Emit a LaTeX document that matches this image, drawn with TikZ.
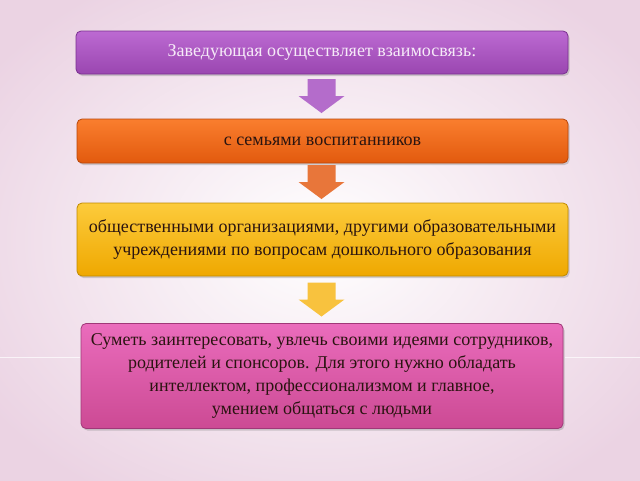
\documentclass[tikz,border=0pt]{standalone}
\usepackage{fontspec}
\setmainfont{Liberation Serif}
\newfontfamily\tnr{Liberation Serif}
\usetikzlibrary{shadows}
\definecolor{bgpink}{HTML}{EBD3E3}
\definecolor{purT}{HTML}{BC6AD2}
\definecolor{purB}{HTML}{9A46B0}
\definecolor{purD}{HTML}{7A3090}
\definecolor{orT}{HTML}{FA7E2E}
\definecolor{orB}{HTML}{E25A0E}
\definecolor{orD}{HTML}{B8460A}
\definecolor{yeT}{HTML}{FCCB3C}
\definecolor{yeB}{HTML}{EFA800}
\definecolor{yeD}{HTML}{C08A00}
\definecolor{maT}{HTML}{EA6CBC}
\definecolor{maB}{HTML}{CC4A94}
\definecolor{maD}{HTML}{A03878}
\definecolor{txtD}{HTML}{2A1410}
\definecolor{txtL}{HTML}{F6EAF8}
\definecolor{arP}{HTML}{B46CCB}
\definecolor{arO}{HTML}{E8763A}
\definecolor{arY}{HTML}{F8C23E}
\tikzset{
  box/.style={rectangle, rounded corners=5pt, line width=0.8pt, align=center,
    font=\tnr\fontsize{18}{23}\selectfont, inner sep=0pt,
    drop shadow={shadow xshift=1.5pt, shadow yshift=-2pt, opacity=0.35}},
  downarrow/.pic={\fill (-14,-17) -- (14,-17) -- (14,0) -- (23,0) -- (0,17) -- (-23,0) -- (-14,0) -- cycle;}
}
\begin{document}
\begin{tikzpicture}[x=1pt,y=-1pt]
\useasboundingbox (0,0) rectangle (640,480);
\shade[inner color=white, outer color=bgpink] (-80,-60) rectangle (720,540);
\draw[white, line width=1pt, opacity=0.7] (0,357) -- (80,357);
\draw[white, line width=1pt, opacity=0.7] (565,357) -- (640,357);
\node[box, minimum width=492pt, minimum height=43pt, top color=purT, bottom color=purB, draw=purD, text=txtL] (b1) at (322,52.5) {Заведующая осуществляет взаимосвязь:};
\node[box, minimum width=491pt, minimum height=44pt, top color=orT, bottom color=orB, draw=orD, text=txtD] (b2) at (322.5,141) {с семьями воспитанников};
\node[box, minimum width=491pt, minimum height=73pt, top color=yeT, bottom color=yeB, draw=yeD, text=txtD] (b3) at (322.5,239.5) {общественными организациями, другими образовательными\\учреждениями по вопросам дошкольного образования};
\node[box, minimum width=482pt, minimum height=105pt, top color=maT, bottom color=maB, draw=maD, text=txtD] (b4) at (322,376) {Суметь заинтересовать, увлечь своими идеями сотрудников,\\родителей и спонсоров. Для этого нужно обладать\\интеллектом, профессионализмом и главное,\\умением общаться с людьми};
\coordinate (a1) at (321.5,96);
\coordinate (a2) at (321.5,182);
\coordinate (a3) at (321.5,299.5);
\pic[fill=arP] at (a1) {downarrow};
\pic[fill=arO] at (a2) {downarrow};
\pic[fill=arY] at (a3) {downarrow};
\end{tikzpicture}
\end{document}
